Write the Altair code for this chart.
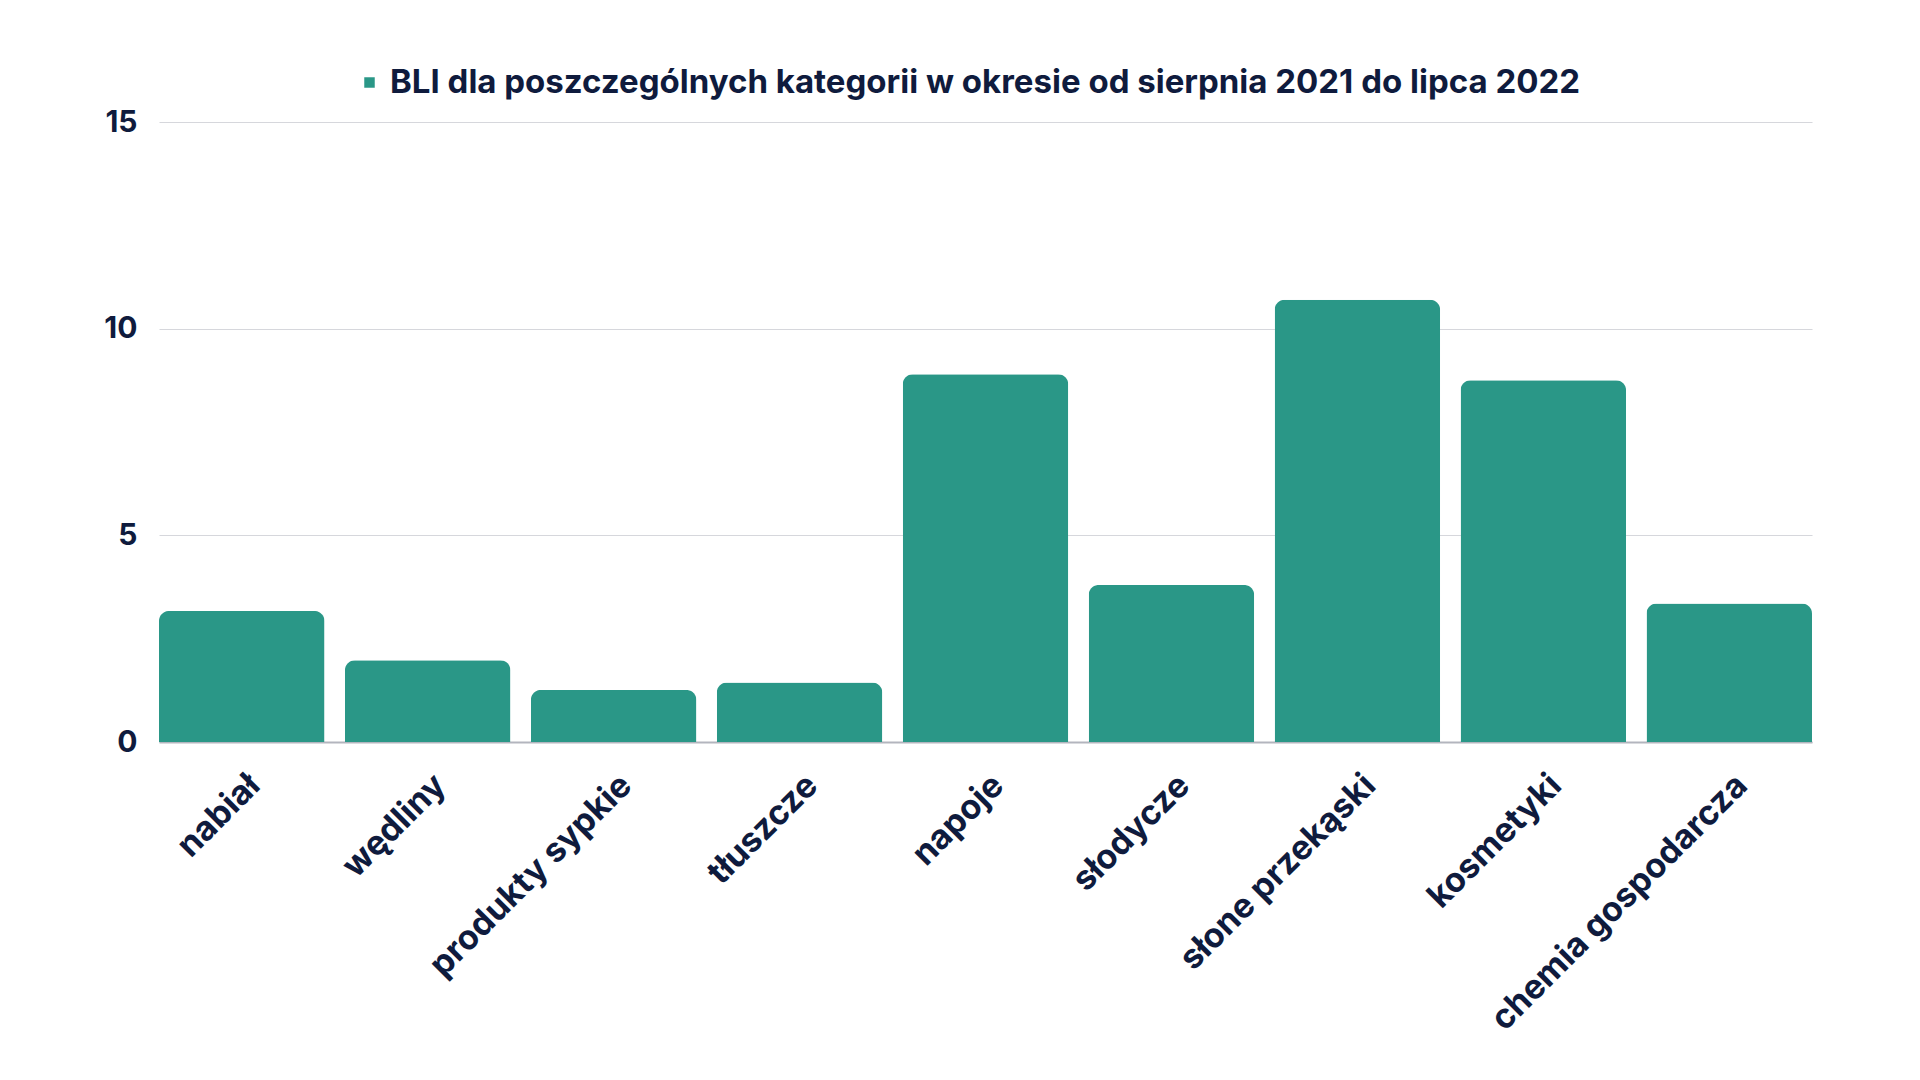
import altair as alt
import pandas as pd

categories = ["nabiał", "wędliny", "produkty sypkie", "tłuszcze", "napoje",
              "słodycze", "słone przekąski", "kosmetyki", "chemia gospodarcza"]
values = [3.17, 1.98, 1.26, 1.44, 8.9, 3.8, 10.7, 8.75, 3.35]
series_name = "BLI dla poszczególnych kategorii w okresie od sierpnia 2021 do lipca 2022"
y_ticks = [0, 5, 10, 15]

df = pd.DataFrame({"kategoria": categories, "wartosc": values, "seria": series_name})

FONT = "Inter"
TEXT = "#0f1b3d"
BAR = "#2a9787"

chart = alt.Chart(df).mark_bar(
    cornerRadiusTopLeft=10, cornerRadiusTopRight=10
).encode(
    x=alt.X("kategoria:N", sort=categories,
            scale=alt.Scale(paddingInner=0.11, paddingOuter=0),
            axis=alt.Axis(title=None, labelAngle=-45, labelAlign="right",
                          labelBaseline="middle", labelFont=FONT, labelFontSize=34,
                          labelFontWeight="bold", labelColor=TEXT, labelPadding=38,
                          labelOffset=13,
                          ticks=False, domain=True, domainColor="#b3b5be",
                          domainWidth=2, grid=False, labelLimit=0)),
    y=alt.Y("wartosc:Q", scale=alt.Scale(domain=[0, 15], nice=False),
            axis=alt.Axis(title=None, values=y_ticks, labelFont=FONT,
                          labelFontSize=30, labelFontWeight="bold", labelColor=TEXT,
                          labelPadding=22, ticks=False, domain=False,
                          gridColor="#d6d7dc", gridWidth=1.2)),
    color=alt.Color("seria:N", scale=alt.Scale(range=[BAR]),
                    legend=alt.Legend(title=None, orient="none",
                                      legendX=194, legendY=-56,
                                      symbolType="square", symbolSize=110,
                                      labelFont=FONT, labelFontSize=33,
                                      labelFontWeight="bold", labelColor=TEXT,
                                      labelLimit=0, symbolStrokeWidth=0)),
).properties(
    width=1653, height=620,
    background="white",
    padding={"left": 159, "top": 122, "right": 108, "bottom": 338},
    autosize=alt.AutoSizeParams(type="none"),
).configure_view(stroke=None)

chart.save("out.html", embed_options={"renderer": "svg", "actions": False})
